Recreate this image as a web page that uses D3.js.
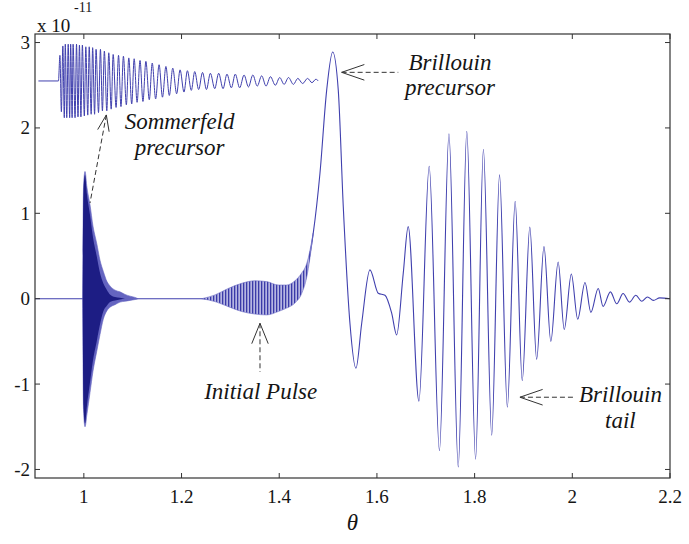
<!DOCTYPE html>
<html>
<head>
<meta charset="utf-8">
<script src="https://cdn.jsdelivr.net/npm/d3@7"></script>
<style>
  body{margin:0;background:#fff}
  svg{display:block}
</style>
</head>
<body>
<svg id="graphContainer" width="689" height="544"></svg>
<script>
/*Axes*/
const xTicks=[1,1.2,1.4,1.6,1.8,2,2.2]
const yTicks=[-2,-1,0,1,2,3]

/*Sommerfeld precursor shown shifted upward (extrema of each oscillation)*/
const insetTheta=[0.907,0.948,0.951,0.954,0.957,0.960,0.962,0.965,0.968,0.971,0.973,0.976,
  0.978,0.982,0.985,0.988,0.991,0.994,0.997,1.001,1.004,1.008,1.011,1.015,1.018,1.022,1.025,1.030,
  1.034,1.038,1.042,1.047,1.051,1.056,1.060,1.066,1.071,1.076,1.081,1.087,1.092,1.098,1.103,1.109,
  1.115,1.121,1.127,1.134,1.140,1.147,1.154,1.161,1.168,1.175,1.182,1.190,1.197,1.205,1.212,1.220,
  1.227,1.235,1.243,1.251,1.259,1.268,1.276,1.285,1.293,1.302,1.310,1.319,1.328,1.337,1.346,1.355,
  1.364,1.373,1.382,1.392,1.401,1.410,1.419,1.429,1.438,1.448,1.458,1.467,1.475,1.480]
const insetValue=[2.55,2.55,2.85,2.19,2.96,2.12,2.98,2.12,2.98,2.12,2.98,2.12,
  2.98,2.12,2.98,2.13,2.97,2.13,2.97,2.14,2.95,2.15,2.95,2.16,2.94,2.16,2.92,2.18,
  2.92,2.20,2.90,2.20,2.88,2.22,2.86,2.24,2.85,2.25,2.84,2.27,2.82,2.28,2.81,2.30,
  2.79,2.31,2.78,2.33,2.76,2.34,2.74,2.36,2.72,2.38,2.70,2.40,2.68,2.42,2.67,2.44,
  2.66,2.45,2.65,2.45,2.64,2.46,2.64,2.46,2.63,2.47,2.63,2.47,2.62,2.48,2.62,2.49,
  2.61,2.49,2.60,2.50,2.59,2.51,2.59,2.51,2.58,2.52,2.58,2.53,2.57,2.55]

/*Sommerfeld burst at theta=1 (envelopes)*/
const burstTheta=[0.9976,0.9993,1.0024,1.0064,1.0126,1.0187,1.0263,1.0331,1.0398,1.0474,1.0535,1.0638,1.074,1.0842,1.0945,1.1047,1.111]
const burstUpper=[0,1.30,1.49,1.30,1.10,0.85,0.65,0.45,0.32,0.20,0.15,0.10,0.08,0.05,0.03,0.015,0]
const burstLower=[0,-1.30,-1.50,-1.35,-1.10,-0.85,-0.62,-0.42,-0.24,-0.14,-0.10,-0.07,-0.04,-0.03,-0.02,-0.01,0]
const coreUpper=[0,1.25,1.45,1.22,0.98,0.72,0.50,0.30,0.18,0.10,0.05,0.02,0.01,0,0,0,0]
const coreLower=[0,-1.25,-1.46,-1.25,-0.98,-0.72,-0.50,-0.30,-0.15,-0.08,-0.04,-0.02,-0.01,0,0,0,0]

/*Initial pulse (envelopes)*/
const pulseTheta=[1.2413,1.2685,1.2957,1.3231,1.3503,1.3743,1.398,1.4152,1.4322,1.4459,1.4562,1.4697]
const pulseUpper=[0,0.044,0.12,0.18,0.21,0.20,0.16,0.16,0.21,0.30,0.41,0.77]
const pulseLower=[0,-0.034,-0.093,-0.15,-0.18,-0.19,-0.15,-0.11,-0.05,0.06,0.25,0.77]

/*Main signal: Brillouin precursor and tail*/
const mainTheta=[0.9,1.2413,1.30,1.35,1.40,1.4152,1.4322,1.4459,1.4562,1.4697,1.4834,1.4971,1.5094,
  1.5209,1.5311,1.5448,1.5571,1.5688,1.5857,1.6027,1.6165,1.6302,1.6404,1.6539,1.664,1.686,1.707,
  1.728,1.7475,1.7665,1.784,1.802,1.818,1.835,1.851,1.867,1.883,1.8975,1.913,1.927,1.942,1.956,
  1.971,1.9835,1.998,2.011,2.026,2.038,2.053,2.063,2.078,2.091,2.104,2.117,2.130,2.142,2.154,2.166,2.179,2.2]
const mainValue=[0,0,0.005,0.01,0.005,0.025,0.08,0.18,0.33,0.77,1.47,2.44,2.89,
  2.44,1.08,-0.29,-0.815,-0.29,0.337,0.064,0.04,-0.17,-0.425,0.298,0.844,-1.20,1.55,
  -1.78,1.93,-1.97,1.96,-1.88,1.75,-1.60,1.45,-1.27,1.14,-0.96,0.84,-0.71,0.61,-0.50,
  0.43,-0.36,0.29,-0.24,0.19,-0.16,0.12,-0.09,0.08,-0.06,0.06,-0.04,0.04,-0.03,0.02,-0.02,0.01,0]

/*Annotations*/
const labels=[
  {lines:['Sommerfeld','precursor'],x:1.196,y:[1.988,1.683]},
  {lines:['Initial Pulse'],x:1.362,y:[-1.174]},
  {lines:['Brillouin','precursor'],x:1.7495,y:[2.678,2.386]},
  {lines:['Brillouin','tail'],x:2.0985,y:[-1.206,-1.517]}
]
const arrows=[
  {tip:[1.046,2.152],base:[1.0126,1.121],len:17,ang:20},
  {tip:[1.3606,-0.288],base:[1.3606,-0.858],len:22,ang:22},
  {tip:[1.5278,2.651],base:[1.6437,2.651],len:24,ang:19},
  {tip:[1.8928,-1.154],base:[2.0019,-1.154],len:24,ang:19}
]

const width=689, height=544
const margin={top:34,right:19,bottom:66,left:35}
const lineColor='#4040ae'

let svg=d3.select('#graphContainer')

let xScale=d3.scaleLinear().domain([0.9,2.2]).range([margin.left,width-margin.right])
let yScale=d3.scaleLinear().domain([-2.1,3.1]).range([height-margin.bottom,margin.top])

/*Hatch pattern for the initial pulse*/
const pattern=svg.append('defs').append('pattern')
                 .attr('id','hatch').attr('patternUnits','userSpaceOnUse')
                 .attr('width',3).attr('height',4)
pattern.append('rect').attr('width',3).attr('height',4).attr('fill','#b6b6e2')
pattern.append('rect').attr('width',1.3).attr('height',4).attr('fill','#3a3aa8')

const line=d3.line()
             .x(d=>xScale(d[0]))
             .y(d=>yScale(d[1]))
             .curve(d3.curveMonotoneX)
const area=d3.area()
             .x(d=>xScale(d[0]))
             .y0(d=>yScale(d[2]))
             .y1(d=>yScale(d[1]))
             .curve(d3.curveMonotoneX)

/*Main signal*/
svg.append('path')
   .attr('d',line(d3.zip(mainTheta,mainValue)))
   .attr('fill','none').attr('stroke',lineColor).attr('stroke-width',1.1)

svg.append('path')
   .attr('d',area(d3.zip(pulseTheta,pulseUpper,pulseLower)))
   .attr('fill','url(#hatch)').attr('stroke','#6a6ac2').attr('stroke-width',0.6)

svg.append('path')
   .attr('d',area(d3.zip(burstTheta,burstUpper,burstLower)))
   .attr('fill','#6464c0').attr('stroke','#6464c0').attr('stroke-width',0.6)
svg.append('path')
   .attr('d',area(d3.zip(burstTheta,coreUpper,coreLower)))
   .attr('fill','#1d1d84')

/*Inset of the Sommerfeld precursor*/
svg.append('path')
   .attr('d',line(d3.zip(insetTheta,insetValue)))
   .attr('fill','none').attr('stroke',lineColor).attr('stroke-width',1)

/*Frame and ticks*/
const x0=xScale.range()[0], x1=xScale.range()[1]
const y0=yScale.range()[1], y1=yScale.range()[0]
svg.append('rect')
   .attr('x',x0).attr('y',y0).attr('width',x1-x0).attr('height',y1-y0)
   .attr('fill','none').attr('stroke','#333').attr('stroke-width',1.2)

const addText=(x,y,s,size,anchor,italic)=>
  svg.append('text').attr('x',x).attr('y',y)
     .attr('font-family','Liberation Serif')
     .attr('font-size',size)
     .attr('font-style',italic?'italic':'normal')
     .attr('text-anchor',anchor)
     .attr('fill','#151515')
     .text(s)

const tickLen=5
xTicks.forEach(t=>{
  const x=xScale(t)
  svg.append('line').attr('x1',x).attr('x2',x).attr('y1',y1).attr('y2',y1-tickLen).attr('stroke','#333')
  svg.append('line').attr('x1',x).attr('x2',x).attr('y1',y0).attr('y2',y0+tickLen).attr('stroke','#333')
  addText(x,y1+25,String(t),19,'middle',false)
})
yTicks.forEach(t=>{
  const y=yScale(t)
  svg.append('line').attr('x1',x0).attr('x2',x0+tickLen).attr('y1',y).attr('y2',y).attr('stroke','#333')
  svg.append('line').attr('x1',x1).attr('x2',x1-tickLen).attr('y1',y).attr('y2',y).attr('stroke','#333')
  addText(x0-5,y+6.5,String(t),19,'end',false)
})

/*Exponent and axis title*/
addText(37,31.5,'x 10',19,'start',false)
addText(74,12,'-11',14,'start',false)
addText((x0+x1)/2,530,'θ',23,'middle',true)

/*Annotation arrows*/
arrows.forEach(a=>{
  const tx=xScale(a.tip[0]), ty=yScale(a.tip[1])
  const bx=xScale(a.base[0]), by=yScale(a.base[1])
  svg.append('line').attr('x1',tx).attr('y1',ty).attr('x2',bx).attr('y2',by)
     .attr('stroke','#333').attr('stroke-width',1).attr('stroke-dasharray','5,3')
  const d=Math.hypot(bx-tx,by-ty), ux=(bx-tx)/d, uy=(by-ty)/d
  ;[-1,1].forEach(s=>{
    const r=s*a.ang*Math.PI/180
    const wx=ux*Math.cos(r)-uy*Math.sin(r), wy=ux*Math.sin(r)+uy*Math.cos(r)
    svg.append('line').attr('x1',tx).attr('y1',ty)
       .attr('x2',tx+wx*a.len).attr('y2',ty+wy*a.len)
       .attr('stroke','#333').attr('stroke-width',1)
  })
})

/*Annotation texts*/
labels.forEach(l=>{
  l.lines.forEach((s,i)=>{
    addText(xScale(l.x),yScale(l.y[i]),s,23,'middle',true)
  })
})
</script>
</body>
</html>
